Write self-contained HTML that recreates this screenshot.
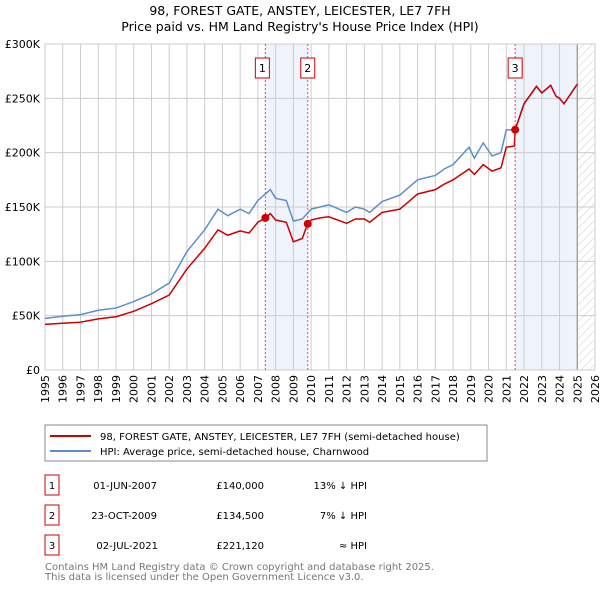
<!DOCTYPE html>
<html><head><meta charset="utf-8"><style>
body{margin:0;width:600px;height:590px;background:#fff;font-family:"Liberation Sans","DejaVu Sans",sans-serif;overflow:hidden}
svg{position:absolute;left:0;top:0}
</style></head><body>
<svg id="chart" width="600" height="590" viewBox="0 0 600 590" font-family="DejaVu Sans, Liberation Sans, sans-serif">
<text x="300" y="15" text-anchor="middle" font-size="12.5">98, FOREST GATE, ANSTEY, LEICESTER, LE7 7FH</text>
<text x="300" y="31" text-anchor="middle" font-size="12.5">Price paid vs. HM Land Registry's House Price Index (HPI)</text>
<defs><pattern id="hatch" width="6" height="6" patternUnits="userSpaceOnUse" patternTransform="rotate(45)"><line x1="0" y1="0" x2="0" y2="6" stroke="#ccc" stroke-width="1"/></pattern></defs>
<g id="bg"></g><g id="grid"></g><g id="series"></g><g id="axes"></g>
<rect x="45" y="425" width="442" height="36" fill="#fff" stroke="#888"/>
<line x1="50" y1="436" x2="91" y2="436" stroke="#cc0000" stroke-width="2"/>
<text x="100" y="440" font-size="10">98, FOREST GATE, ANSTEY, LEICESTER, LE7 7FH (semi-detached house)</text>
<line x1="50" y1="451" x2="91" y2="451" stroke="#5b8fd0" stroke-width="2"/>
<text x="100" y="455" font-size="10">HPI: Average price, semi-detached house, Charnwood</text>
<g font-size="10">
<rect x="45" y="475" width="14" height="20" fill="#fff" stroke="#c00"/><text x="52" y="489" text-anchor="middle">1</text>
<text x="157" y="489" text-anchor="end">01-JUN-2007</text><text x="264" y="489" text-anchor="end">£140,000</text><text x="367" y="489" text-anchor="end">13% ↓ HPI</text>
<rect x="45" y="505" width="14" height="20" fill="#fff" stroke="#c00"/><text x="52" y="519" text-anchor="middle">2</text>
<text x="157" y="519" text-anchor="end">23-OCT-2009</text><text x="264" y="519" text-anchor="end">£134,500</text><text x="367" y="519" text-anchor="end">7% ↓ HPI</text>
<rect x="45" y="535" width="14" height="20" fill="#fff" stroke="#c00"/><text x="52" y="549" text-anchor="middle">3</text>
<text x="158" y="549" text-anchor="end">02-JUL-2021</text><text x="264" y="549" text-anchor="end">£221,120</text><text x="367" y="549" text-anchor="end">≈ HPI</text>
</g>
<text x="45" y="570" font-size="10" fill="#777">Contains HM Land Registry data © Crown copyright and database right 2025.</text>
<text x="45" y="580" font-size="10" fill="#777">This data is licensed under the Open Government Licence v3.0.</text>
</svg>
<script>
const hpiYears=[1995,1996,1997,1998,1999,2000,2001,2002,2003,2004,2004.75,2005.3,2006,2006.5,2007,2007.42,2007.7,2008,2008.6,2009,2009.5,2010,2010.5,2011,2012,2012.5,2013,2013.3,2014,2015,2016,2017,2017.5,2018,2018.9,2019.2,2019.7,2020.2,2020.7,2021,2021.5,2022,2022.7,2023,2023.5,2023.8,2024,2024.25,2024.5,2025];
const hpiValues=[47.5,49.5,51,55,57,63,70,80,109,129,148,142,148,144,156,162,166,158,156,137,139,148,150,152,145,150,148,145,155,161,175,179,185,189,205,195,209,197,200,221,221,245,261,255,262,252,250,245,251,263];
const ppYears=[1995,1996,1997,1998,1999,2000,2001,2002,2003,2004,2004.75,2005.3,2006,2006.5,2007,2007.42,2007.7,2008,2008.6,2009,2009.5,2009.8,2010,2010.5,2011,2012,2012.5,2013,2013.3,2014,2015,2016,2017,2017.5,2018,2018.9,2019.2,2019.7,2020.2,2020.7,2021,2021.45,2021.5,2022,2022.7,2023,2023.5,2023.8,2024,2024.25,2024.5,2025];
const ppValues=[42,43,44,47,49,54,61,69,93,112,129,124,128,126,136,140,144,138,136,118,121,134.5,138,140,141,135,139,139,136,145,148,162,166,171,175,185,180,189,183,186,205,206,221,245,261,255,262,252,250,245,251,263];
const saleYears=[2007.42,2009.81,2021.5];
const saleValues=[140,134.5,221.12];
const saleLabels=["1","2","3"];
const yTicks=[0,50,100,150,200,250,300];
const yTickLabels=["£0","£50K","£100K","£150K","£200K","£250K","£300K"];
const xTicks=[1995,1996,1997,1998,1999,2000,2001,2002,2003,2004,2005,2006,2007,2008,2009,2010,2011,2012,2013,2014,2015,2016,2017,2018,2019,2020,2021,2022,2023,2024,2025,2026];
const X0=45,X1=595,Y0=370,Y1=44;
const xs=y=>X0+(y-1995)/(2026-1995)*(X1-X0);
const ys=v=>Y0-v/300*(Y0-Y1);
const NS="http://www.w3.org/2000/svg";
function mk(tag,attrs,parent,txt){const e=document.createElementNS(NS,tag);for(const k in attrs)e.setAttribute(k,attrs[k]);if(txt!==undefined)e.textContent=txt;document.getElementById(parent).appendChild(e);return e;}
// shading
let r=mk('rect',{x:xs(saleYears[0]),y:Y1,width:xs(saleYears[1])-xs(saleYears[0]),height:Y0-Y1,fill:'#eef3fc'},'bg');


r=mk('rect',{x:xs(saleYears[2]),y:Y1,width:xs(2025)-xs(saleYears[2]),height:Y0-Y1,fill:'#eef3fc'},'bg');


r=mk('rect',{x:xs(2025.05),y:Y1,width:X1-xs(2025.05),height:Y0-Y1,fill:'url(#hatch)'},'bg');


xTicks.forEach(t=>{const l=mk('line',{x1:xs(t),x2:xs(t),y1:Y1,y2:Y0,stroke:'#ccc','stroke-width':1},'grid');


const tx=mk('text',{x:0,y:0,'font-size':11,'text-anchor':'end',transform:`translate(${xs(t)+4},${Y0+5}) rotate(-90)`},'axes',String(t));

});
yTicks.forEach((t,i)=>{const l=mk('line',{x1:X0,x2:X1,y1:ys(t),y2:ys(t),stroke:'#ccc','stroke-width':1},'grid');


const tx=mk('text',{x:40,y:ys(t)+4,'font-size':11,'text-anchor':'end'},'axes',yTickLabels[i]);

});
const vl=mk('line',{x1:xs(2025),x2:xs(2025),y1:Y1,y2:Y0,stroke:'#888','stroke-width':1},'grid');


const fr=mk('rect',{x:X0,y:Y1,width:X1-X0,height:Y0-Y1,fill:'none',stroke:'#ccc'},'grid');


const hp=mk('polyline',{points:hpiYears.map((y,i)=>xs(y)+','+ys(hpiValues[i])).join(' '),fill:'none',stroke:'#5b8fd0','stroke-width':1.5},'series');


const pp=mk('polyline',{points:ppYears.map((y,i)=>xs(y)+','+ys(ppValues[i])).join(' '),fill:'none',stroke:'#cc0000','stroke-width':1.5},'series');


saleYears.forEach((y,i)=>{
const l=mk('line',{x1:xs(y),x2:xs(y),y1:Y1,y2:Y0,stroke:'#e44','stroke-width':1,'stroke-dasharray':'2,2'},'series');


const c=mk('circle',{cx:xs(y),cy:ys(saleValues[i]),r:4,fill:'#cc0000'},'series');


const b=mk('rect',{x:xs(y)-14-(i==0?0:0)- (i==2?0:0),y:58,width:14,height:20,fill:'#fff',stroke:'#c00'},'series');
b.setAttribute('x',xs(y)-(i==0?10:i==1?7:7));


const t=mk('text',{x:xs(y)-(i==0?3:0),y:72,'font-size':11,'text-anchor':'middle'},'series',saleLabels[i]);
t.setAttribute('x',+b.getAttribute('x')+7);


});
</script>
</body></html>
